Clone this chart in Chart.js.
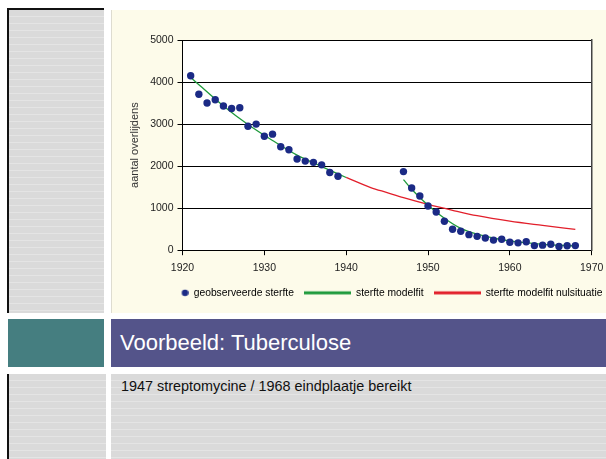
<!DOCTYPE html>
<html lang="nl">
<head>
<meta charset="utf-8">
<title>Voorbeeld: Tuberculose</title>
<script src="https://cdn.jsdelivr.net/npm/chart.js@4/dist/chart.umd.min.js"></script>
<style>
  html, body { margin: 0; padding: 0; }
  body {
    width: 606px; height: 459px; overflow: hidden; position: relative;
    background: #fff; font-family: 'Liberation Sans', Arial, sans-serif;
  }
  .streep {
    position: absolute;
    background: repeating-linear-gradient(to bottom, #dadada 0px, #dadada 6px, #e4e4e4 6px, #e4e4e4 7px);
  }
  #kolomBoven { left: 7px; top: 8px; width: 95px; height: 303px; border-left: 2px solid #111; border-top: 2px solid #111; }
  #kolomOnder { left: 7px; top: 374px; width: 97px; height: 90px; border-left: 2px solid #111; }
  #vakOnder { left: 111px; top: 374px; width: 495px; height: 90px; }
  #paneel {
    position: absolute; left: 111px; top: 10px; width: 495px; height: 303px;
    background: #fdfbea; border-left: 1px solid #dedcd0; box-sizing: border-box;
  }
  #teal { position: absolute; left: 8px; top: 319px; width: 96px; height: 48px; background: #457e80; }
  #titelbalk {
    position: absolute; left: 111px; top: 319px; width: 495px; height: 48px;
    background: #54548a; color: #fff; font-size: 22px;
  }
  #titelbalk span { position: absolute; left: 9px; top: 11px; }
  #ondertitel { position: absolute; left: 121px; top: 378px; font-size: 14.4px; color: #111; }
  #grafiekVak { position: absolute; left: 111px; top: 10px; width: 522px; height: 298px; }
</style>
</head>
<body>
<div id="kolomBoven" class="streep"></div>
<div id="paneel"></div>
<div id="teal"></div>
<div id="titelbalk"><span>Voorbeeld: Tuberculose</span></div>
<div id="kolomOnder" class="streep"></div>
<div id="vakOnder" class="streep"></div>
<div id="ondertitel">1947 streptomycine / 1968 eindplaatje bereikt</div>
<div id="grafiekVak"><canvas id="grafiek"></canvas></div>

<script>
// waargenomen sterfte (punten)
const jarenWaargenomen = [1921, 1922, 1923, 1924, 1925, 1926, 1927, 1928, 1929, 1930,
    1931, 1932, 1933, 1934, 1935, 1936, 1937, 1938, 1939,
    1947, 1948, 1949, 1950, 1951, 1952, 1953, 1954, 1955, 1956, 1957,
    1958, 1959, 1960, 1961, 1962, 1963, 1964, 1965, 1966, 1967, 1968];
const sterfteWaargenomen = [4150, 3710, 3500, 3580, 3430, 3370, 3390, 2950, 3000, 2710,
    2760, 2460, 2390, 2170, 2120, 2090, 2030, 1850, 1760,
    1870, 1480, 1290, 1050, 910, 690, 500, 450, 370, 330, 290,
    240, 260, 190, 175, 200, 110, 120, 140, 90, 105, 110];

// modelfit voor 1947
const jarenFit1 = [1921, 1925, 1928, 1931, 1934, 1937, 1940];
const sterfteFit1 = [4110, 3430, 2990, 2610, 2260, 1990, 1730];

// modelfit na streptomycine
const jarenFit2 = [1947, 1948, 1950, 1952, 1954, 1956, 1958, 1960, 1964, 1968];
const sterfteFit2 = [1680, 1450, 1070, 760, 520, 380, 290, 220, 140, 100];

// modelfit nulsituatie (zonder medicijn)
const jarenNul = [1940, 1943, 1945, 1947, 1950, 1953, 1956, 1960, 1964, 1968];
const sterfteNul = [1730, 1490, 1370, 1250, 1090, 950, 820, 690, 590, 495];

const xTicks = [1920, 1930, 1940, 1950, 1960, 1970];
const yTicks = [0, 1000, 2000, 3000, 4000, 5000];

const labels = ['geobserveerde sterfte', 'sterfte modelfit', 'sterfte modelfit nulsituatie'];

const kleurPunt = '#1b2a85';
const kleurGroen = '#1f9a3c';
const kleurRood = '#e21f2b';

function punten(jaren, waarden) {
    return jaren.map((j, i) => ({ x: j, y: waarden[i] }));
}

// icoontjes voor de legenda
function maakIcoon(kleur, soort) {
    const c = document.createElement('canvas');
    c.width = 47;
    c.height = 8;
    const g = c.getContext('2d');
    g.fillStyle = kleur;
    if (soort === 'punt') {
        g.beginPath();
        g.arc(43.5, 4, 3.3, 0, Math.PI * 2);
        g.fill();
    } else {
        g.fillRect(0, 2.5, 47, 3);
    }
    return c;
}

const witVlak = {
    id: 'witVlak',
    beforeDraw(chart) {
        const a = chart.chartArea;
        const ctx = chart.ctx;
        ctx.save();
        ctx.fillStyle = '#ffffff';
        ctx.fillRect(a.left, a.top, a.right - a.left, a.bottom - a.top);
        ctx.restore();
    }
};

Chart.defaults.font.family = "'Liberation Sans', Arial, sans-serif";
Chart.defaults.color = '#222';

const lijn = {
    type: 'line',
    pointRadius: 0,
    borderWidth: 1.3,
    fill: false,
    cubicInterpolationMode: 'monotone',
    order: 1
};

new Chart(document.getElementById('grafiek'), {
    type: 'scatter',
    data: {
        datasets: [
            {
                label: labels[0],
                data: punten(jarenWaargenomen, sterfteWaargenomen),
                backgroundColor: kleurPunt,
                borderColor: kleurPunt,
                pointRadius: 3.7,
                pointBorderWidth: 0,
                order: 0
            },
            Object.assign({ label: labels[1], data: punten(jarenFit1, sterfteFit1), borderColor: kleurGroen }, lijn),
            Object.assign({ label: labels[1], data: punten(jarenFit2, sterfteFit2), borderColor: kleurGroen }, lijn),
            Object.assign({ label: labels[2], data: punten(jarenNul, sterfteNul), borderColor: kleurRood }, lijn, { order: 2 })
        ]
    },
    options: {
        responsive: true,
        maintainAspectRatio: false,
        animation: false,
        layout: { padding: { top: 30, left: 0, right: 0, bottom: 0 } },
        scales: {
            x: {
                type: 'linear',
                min: 1920,
                max: 1970,
                afterBuildTicks: s => { s.ticks = xTicks.map(v => ({ value: v })); },
                afterFit: s => { s.height = 27.5; },
                ticks: { font: { size: 10.5 }, padding: 7, callback: v => String(v) },
                grid: { drawOnChartArea: false, tickLength: 5, color: '#000' },
                border: { display: true, color: '#000', width: 1 }
            },
            y: {
                min: 0,
                max: 5000,
                afterBuildTicks: s => { s.ticks = yTicks.map(v => ({ value: v })); },
                afterFit: s => { s.width = 71.5; },
                ticks: { font: { size: 10.5 }, padding: 4, callback: v => String(v) },
                grid: { color: '#000', lineWidth: 1, tickLength: 5 },
                border: { display: true, color: '#000', width: 1 },
                title: {
                    display: true,
                    text: 'aantal overlijdens',
                    font: { size: 11 },
                    color: '#333',
                    padding: { top: 17, bottom: 0 }
                }
            },
            y2: {
                position: 'right',
                min: 0,
                max: 5000,
                afterFit: s => { s.width = 522 - 480.7; },
                ticks: { display: false },
                grid: { display: false },
                border: { display: true, color: '#444', width: 1.5 }
            }
        },
        plugins: {
            legend: {
                position: 'bottom',
                labels: {
                    usePointStyle: true,
                    pointStyleWidth: 47,
                    padding: 10,
                    font: { size: 10.3 },
                    color: '#222',
                    generateLabels: () => [
                        { text: labels[0], pointStyle: maakIcoon(kleurPunt, 'punt'), fillStyle: kleurPunt, strokeStyle: kleurPunt, lineWidth: 0, hidden: false, datasetIndex: 0 },
                        { text: labels[1], pointStyle: maakIcoon(kleurGroen, 'lijn'), fillStyle: kleurGroen, strokeStyle: kleurGroen, lineWidth: 0, hidden: false, datasetIndex: 1 },
                        { text: labels[2], pointStyle: maakIcoon(kleurRood, 'lijn'), fillStyle: kleurRood, strokeStyle: kleurRood, lineWidth: 0, hidden: false, datasetIndex: 3 }
                    ]
                }
            },
            tooltip: { enabled: false }
        }
    },
    plugins: [witVlak]
});
</script>
</body>
</html>
